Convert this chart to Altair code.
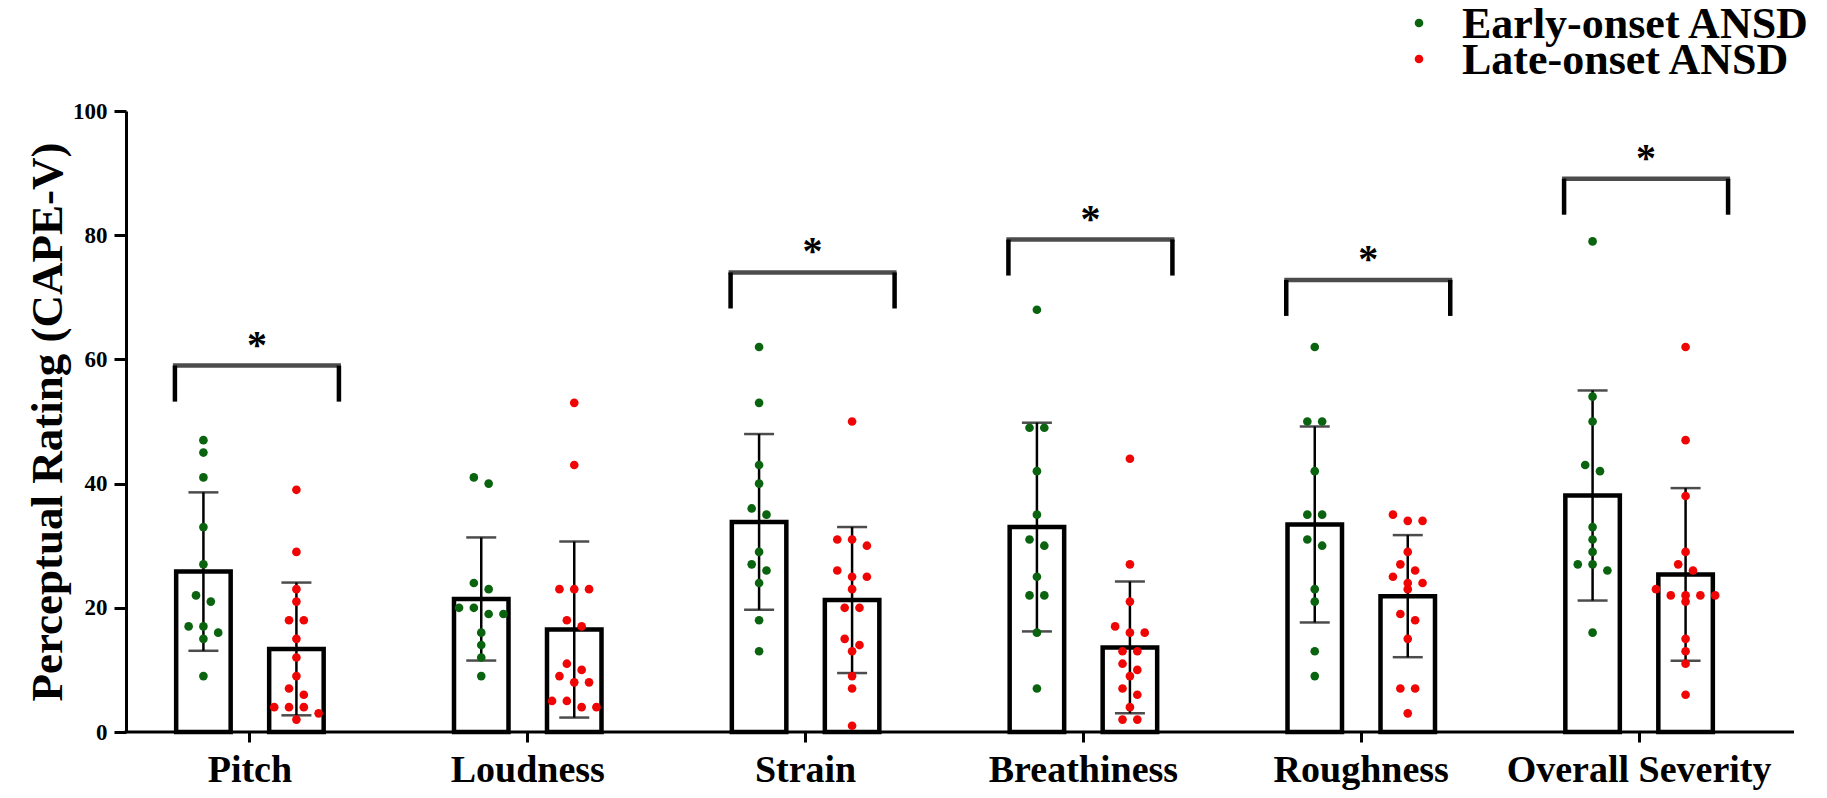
import altair as alt
import pandas as pd

# ---------------- data ----------------
categories = ["Pitch", "Loudness", "Strain", "Breathiness", "Roughness", "Overall Severity"]
groups = ["Early-onset ANSD", "Late-onset ANSD"]

early_pitch = [47, 45, 41, 33, 27, 22, 21, 17, 17, 16, 15, 9]
late_pitch = [39, 29, 23, 21, 18, 18, 15, 12, 9, 7, 6, 4, 4, 4, 3, 2]
early_loudness = [41, 40, 24, 23, 20, 20, 19, 19, 16, 14, 12, 9]
late_loudness = [53, 43, 23, 23, 23, 18, 17, 11, 10, 9, 8, 8, 5, 5, 4, 4]
early_strain = [62, 53, 43, 40, 36, 35, 29, 27, 26, 24, 18, 13]
late_strain = [50, 31, 31, 30, 26, 25, 25, 23, 20, 20, 15, 14, 13, 9, 7, 1]
early_breathiness = [68, 49, 49, 42, 35, 31, 30, 25, 22, 22, 16, 7]
late_breathiness = [44, 27, 21, 17, 16, 16, 13, 13, 11, 10, 9, 7, 6, 4, 2, 2]
early_roughness = [62, 50, 50, 42, 35, 35, 31, 30, 23, 21, 13, 9]
late_roughness = [35, 34, 34, 29, 27, 26, 25, 24, 24, 23, 19, 18, 15, 7, 7, 3]
early_overall = [79, 54, 50, 43, 42, 33, 31, 29, 27, 27, 26, 16]
late_overall = [62, 47, 38, 29, 27, 26, 23, 22, 22, 22, 22, 21, 15, 13, 11, 6]

sig_categories = ["Pitch", "Strain", "Breathiness", "Roughness", "Overall Severity"]
bracket_levels = [59.0, 74.0, 79.3, 72.8, 89.1]
star_label = "*"

y_ticks = [0, 20, 40, 60, 80, 100]

# ---------------- styling / layout constants ----------------
GREEN = "#0a640f"
RED = "#f00505"
FONT = "Liberation Serif"
W, H = 1667, 621
STEP = W / len(categories)
GROUP_SHIFT = 46.5      # px from category centre to each bar centre
DOT_SPACING = 14.8      # px between neighbouring dots in a row
ROW_SPAN = 1.5          # rating units merged into one dot row
LEG = 5.8               # bracket leg length (rating units)

# legend placement (pixels, relative to plot origin)
LEG_DOT_X = 1308
LEG_TEXT_X = 1351
LEG_ROW0 = -88          # centre of first legend row
LEG_ROW_STEP = 36

series = {
    "Early-onset ANSD": [early_pitch, early_loudness, early_strain,
                         early_breathiness, early_roughness, early_overall],
    "Late-onset ANSD": [late_pitch, late_loudness, late_strain,
                        late_breathiness, late_roughness, late_overall],
}


def swarm(values):
    vals = sorted(values, reverse=True)
    rows = []
    for v in vals:
        if rows and rows[-1][0] - v <= ROW_SPAN:
            rows[-1].append(v)
        else:
            rows.append([v])
    out = []
    for row in rows:
        k = len(row)
        for j, v in enumerate(row):
            out.append((v, (j - (k - 1) / 2) * DOT_SPACING))
    return out


records = []
for g, lists in series.items():
    shift = -GROUP_SHIFT if g == groups[0] else GROUP_SHIFT
    for cat, vals in zip(categories, lists):
        for v, off in swarm(vals):
            records.append({"cat": cat, "group": g, "value": v, "off": shift + off})
df = pd.DataFrame(records)

sig_df = pd.DataFrame({"cat": sig_categories, "top": bracket_levels})
sig_df["bottom"] = sig_df["top"] - LEG
sig_df["star"] = star_label

# ---------------- scales / axes ----------------
x_enc = alt.X(
    "cat:N",
    sort=categories,
    scale=alt.Scale(domain=categories, paddingInner=0, paddingOuter=0),
    axis=alt.Axis(
        title=None, labelAngle=0, labelFont=FONT, labelFontWeight="bold",
        labelFontSize=38, labelColor="black", labelPadding=39,
        labelBaseline="alphabetic", labelOverlap=False, labelLimit=500,
        tickColor="black", tickWidth=3, tickSize=10, domain=False, grid=False,
    ),
)
y_scale = alt.Scale(domain=[0, 100], nice=False, zero=True)
y_axis = alt.Axis(
    values=y_ticks, title="Perceptual Rating (CAPE-V)", titleFont=FONT,
    titleFontSize=45, titleFontWeight="bold", titleColor="black",
    titleAngle=270, titleX=-79, titleY=H / 2, titleBaseline="middle", titleAlign="center",
    labelFont=FONT, labelFontSize=23, labelFontWeight="bold", labelColor="black",
    labelPadding=7, tickSize=12, tickWidth=3, tickColor="black",
    domainColor="black", domainWidth=3, grid=False, offset=-15,
)
color_scale = alt.Scale(domain=groups, range=[GREEN, RED])

base = alt.Chart(df)

layers = []
for g, shift in zip(groups, [-GROUP_SHIFT, GROUP_SHIFT]):
    gb = base.transform_filter(alt.datum.group == g)
    bar = gb.mark_bar(width=54.5, xOffset=shift, fill="white", stroke="black",
                      strokeWidth=4.5).encode(
        x=x_enc, y=alt.Y("mean(value):Q", scale=y_scale, axis=y_axis))
    stats = gb.transform_aggregate(
        m="mean(value)", sd="stdev(value)", groupby=["cat"]
    ).transform_calculate(lo="datum.m - datum.sd", hi="datum.m + datum.sd")
    err = stats.mark_rule(xOffset=shift, color="black", strokeWidth=2.5).encode(
        x=x_enc, y=alt.Y("lo:Q", scale=y_scale), y2="hi:Q")
    cap_lo = stats.mark_tick(orient="horizontal", size=30, thickness=2.5,
                             xOffset=shift, color="black").encode(
        x=x_enc, y=alt.Y("lo:Q", scale=y_scale))
    cap_hi = stats.mark_tick(orient="horizontal", size=30, thickness=2.5,
                             xOffset=shift, color="black").encode(
        x=x_enc, y=alt.Y("hi:Q", scale=y_scale))
    layers += [bar, err, cap_lo, cap_hi]

points = base.mark_circle(size=75, opacity=1).encode(
    x=x_enc,
    y=alt.Y("value:Q", scale=y_scale),
    xOffset=alt.XOffset("off:Q", scale=alt.Scale(domain=[-STEP / 2, STEP / 2],
                                                 range=[0, STEP])),
    color=alt.Color("group:N", scale=color_scale, legend=None),
)

BR_SHIFT = 7
sig = alt.Chart(sig_df)
bracket_top = sig.mark_tick(orient="horizontal", size=168, thickness=4.5,
                            xOffset=BR_SHIFT, color="black").encode(
    x=x_enc, y=alt.Y("top:Q", scale=y_scale))
leg_l = sig.mark_rule(xOffset=BR_SHIFT - 82, strokeWidth=4.5, color="black").encode(
    x=x_enc, y=alt.Y("top:Q", scale=y_scale), y2="bottom:Q")
leg_r = sig.mark_rule(xOffset=BR_SHIFT + 82, strokeWidth=4.5, color="black").encode(
    x=x_enc, y=alt.Y("top:Q", scale=y_scale), y2="bottom:Q")
stars = sig.mark_text(font=FONT, fontSize=40, fontWeight="bold", baseline="alphabetic",
                      dx=BR_SHIFT, dy=-8, color="black").encode(
    x=x_enc, y=alt.Y("top:Q", scale=y_scale), text="star:N")

x_line = alt.Chart(pd.DataFrame({"a": [0]})).mark_rule(
    color="black", strokeWidth=3).encode(
    x=alt.value(13.5), x2=alt.value(1683), y=alt.value(H))

# ---------------- legend (compact, like the reference) ----------------
legend_layers = []
legend_df = pd.DataFrame({"group": groups})
for i, g in enumerate(groups):
    row_y = LEG_ROW0 + i * LEG_ROW_STEP
    lg = alt.Chart(legend_df).transform_filter(alt.datum.group == g)
    legend_layers.append(lg.mark_circle(size=75, opacity=1).encode(
        x=alt.value(LEG_DOT_X), y=alt.value(row_y),
        color=alt.Color("group:N", scale=color_scale, legend=None)))
    legend_layers.append(lg.mark_text(
        font=FONT, fontSize=44, fontWeight="bold", align="left",
        baseline="alphabetic", dy=14.5, color="black").encode(
        x=alt.value(LEG_TEXT_X), y=alt.value(row_y), text="group:N"))

chart = alt.layer(*layers, points, bracket_top, leg_l, leg_r, stars, x_line,
                  *legend_layers).properties(
    width=W, height=H,
    padding={"left": 103, "top": 103, "right": 41, "bottom": 58},
    autosize=alt.AutoSizeParams(type="none"),
    background="white",
).configure(font=FONT, view=alt.ViewConfig(stroke=None))

chart.save("out.html", embed_options={"renderer": "svg", "actions": False})
